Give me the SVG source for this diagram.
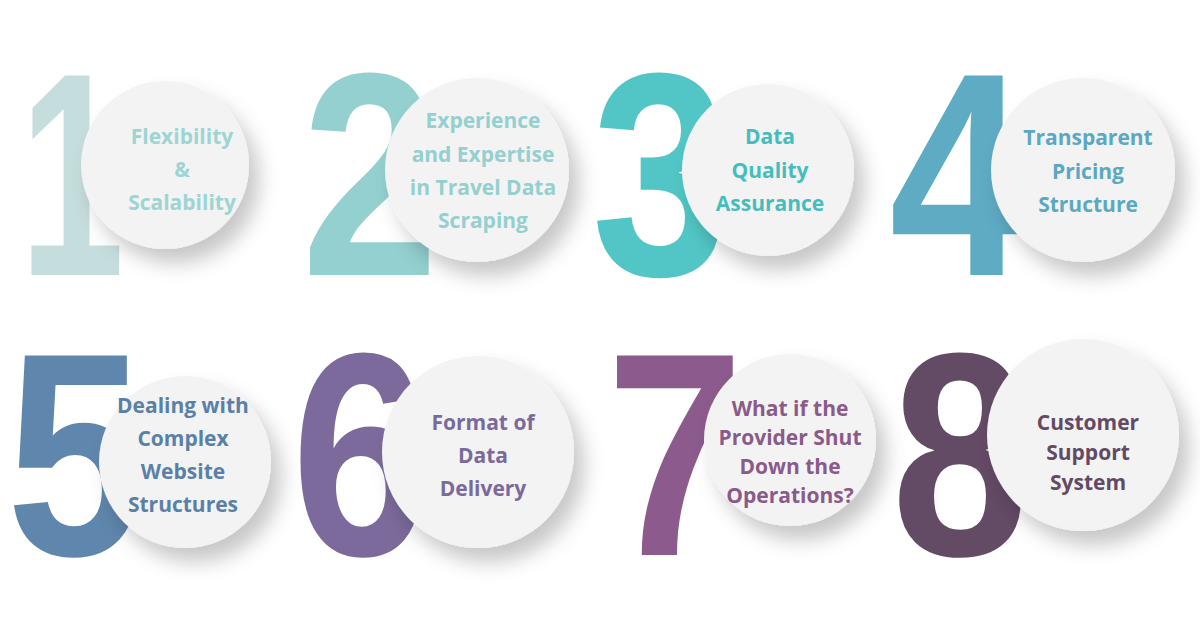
<svg xmlns="http://www.w3.org/2000/svg" width="1200" height="628" viewBox="0 0 1200 628">
<defs>
<filter id="sh" x="-30%" y="-30%" width="170%" height="170%"><feDropShadow dx="10" dy="14" stdDeviation="10" flood-color="#000" flood-opacity="0.22"/></filter>
<style>
.d{font-family:"Liberation Sans",Arial,sans-serif;font-weight:bold;font-size:290px;text-anchor:middle}
.c{fill:#f3f3f3;filter:url(#sh)}
.t{font-family:"Open Sans","Noto Sans",sans-serif;font-weight:bold;font-size:21px;text-anchor:middle}
</style>
</defs>
<rect width="1200" height="628" fill="#fff"/>
<g id="n1"><text class="d" transform="translate(72,275) scale(0.65,1)" fill="#c5dddc">1</text><circle class="c" cx="165" cy="165" r="84"/>
<text class="t" fill="#9dd5d3" x="182" y="144">Flexibility</text><text class="t" fill="#9dd5d3" x="182" y="177">&amp;</text><text class="t" fill="#9dd5d3" x="182" y="210">Scalability</text></g>
<g id="n2"><text class="d" transform="translate(370,275) scale(0.85,1)" fill="#93d0cf">2</text><circle class="c" cx="477" cy="170" r="92"/>
<text class="t" fill="#93d0cf" x="483" y="128">Experience</text><text class="t" fill="#93d0cf" x="483" y="162">and Expertise</text><text class="t" fill="#93d0cf" x="483" y="195">in Travel Data</text><text class="t" fill="#93d0cf" x="483" y="228">Scraping</text></g>
<g id="n3"><text class="d" transform="translate(660,275) scale(0.85,1)" fill="#52c6c6">3</text><circle class="c" cx="768" cy="170" r="86"/>
<text class="t" fill="#45bdbd" x="770" y="144">Data</text><text class="t" fill="#45bdbd" x="770" y="178">Quality</text><text class="t" fill="#45bdbd" x="770" y="211">Assurance</text></g>
<g id="n4"><text class="d" transform="translate(958,275) scale(0.85,1)" fill="#5eabc4">4</text><circle class="c" cx="1083" cy="170" r="92"/>
<text class="t" fill="#5aa8c2" x="1088" y="145">Transparent</text><text class="t" fill="#5aa8c2" x="1088" y="179">Pricing</text><text class="t" fill="#5aa8c2" x="1088" y="212">Structure</text></g>
<g id="n5"><text class="d" transform="translate(75,555) scale(0.85,1)" fill="#5f86ad">5</text><circle class="c" cx="185" cy="462" r="86"/>
<text class="t" fill="#5a80a8" x="183" y="413">Dealing with</text><text class="t" fill="#5a80a8" x="183" y="446">Complex</text><text class="t" fill="#5a80a8" x="183" y="479">Website</text><text class="t" fill="#5a80a8" x="183" y="512">Structures</text></g>
<g id="n6"><text class="d" transform="translate(360,555) scale(0.85,1)" fill="#7b6a9b">6</text><circle class="c" cx="478" cy="452" r="96"/>
<text class="t" fill="#7a6a9b" x="483" y="430">Format of</text><text class="t" fill="#7a6a9b" x="483" y="463">Data</text><text class="t" fill="#7a6a9b" x="483" y="496">Delivery</text></g>
<g id="n7"><text class="d" transform="translate(675,555) scale(0.85,1)" fill="#8c5a8c">7</text><circle class="c" cx="790" cy="440" r="86"/>
<text class="t" fill="#8a5a8a" x="790" y="416">What if the</text><text class="t" fill="#8a5a8a" x="790" y="445">Provider Shut</text><text class="t" fill="#8a5a8a" x="790" y="474">Down the</text><text class="t" fill="#8a5a8a" x="790" y="503">Operations?</text></g>
<g id="n8"><text class="d" transform="translate(960,555) scale(0.85,1)" fill="#634a65">8</text><circle class="c" cx="1083" cy="435" r="96"/>
<text class="t" fill="#624a64" x="1088" y="430">Customer</text><text class="t" fill="#624a64" x="1088" y="460">Support</text><text class="t" fill="#624a64" x="1088" y="490">System</text></g>
<g id="connectors"/>
</svg>
